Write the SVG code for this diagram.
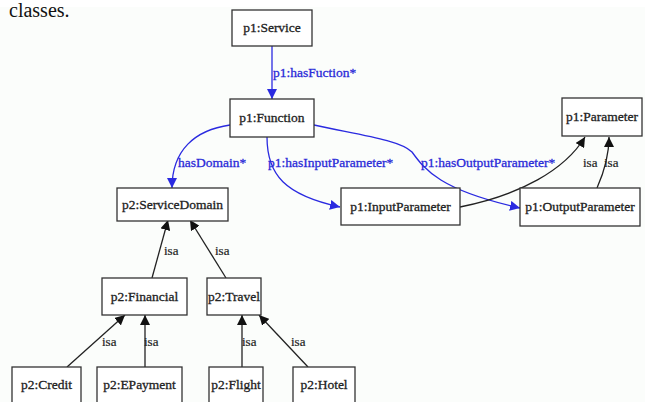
<svg xmlns="http://www.w3.org/2000/svg" width="645" height="402" viewBox="0 0 645 402">
<style>
.box{fill:#ffffff;stroke:#333;stroke-width:1.3}
.t{font-family:"Liberation Serif","Times New Roman",serif;font-size:13.5px;fill:#222;stroke:#222;stroke-width:0.3;text-anchor:middle}
.bl{font-family:"Liberation Serif","Times New Roman",serif;font-size:13.5px;fill:#2a2ad8;stroke:#2a2ad8;stroke-width:0.3}
.isa{font-family:"Liberation Serif","Times New Roman",serif;font-size:13px;fill:#222;stroke:#222;stroke-width:0.2}
.eb{fill:none;stroke:#2a2ae0;stroke-width:1.3}
.ek{fill:none;stroke:#222;stroke-width:1.3}
</style>
<defs>
<marker id="ab" viewBox="0 0 10 10" refX="10" refY="5" markerWidth="10" markerHeight="10" markerUnits="userSpaceOnUse" orient="auto"><path d="M0,0L10,5L0,10z" fill="#2a2ae0"/></marker>
<marker id="ak" viewBox="0 0 10 10" refX="10" refY="5" markerWidth="10" markerHeight="10" markerUnits="userSpaceOnUse" orient="auto"><path d="M0,0L10,5L0,10z" fill="#111"/></marker>
</defs>
<rect x="0" y="0" width="645" height="402" fill="#ffffff"/>
<rect x="0" y="7" width="645" height="395" fill="#fbfdfb"/>
<text x="9" y="17" style="font-family:'Liberation Serif','Times New Roman',serif;font-size:20px;fill:#111">classes.</text>
<g id="connectors">
<path class="eb" d="M272,46 L272,99" marker-end="url(#ab)"/>
<path class="eb" d="M230,125 C195,130 172,150 172,188" marker-end="url(#ab)"/>
<path class="eb" d="M267,137 C267,175 285,195 340,207" marker-end="url(#ab)"/>
<path class="eb" d="M314,125 C360,135 400,140 412,152 C425,170 440,190 520,208" marker-end="url(#ab)"/>
<path class="ek" d="M460,207 C520,195 565,170 585,137" marker-end="url(#ak)"/>
<path class="ek" d="M597,188 C605,170 609,155 609,137" marker-end="url(#ak)"/>
<path class="ek" d="M152,278 L168,220" marker-end="url(#ak)"/>
<path class="ek" d="M226,278 L190,220" marker-end="url(#ak)"/>
<path class="ek" d="M67,367 L125,315" marker-end="url(#ak)"/>
<path class="ek" d="M145,367 L145,315" marker-end="url(#ak)"/>
<path class="ek" d="M242,367 L242,315" marker-end="url(#ak)"/>
<path class="ek" d="M308,367 L259,315" marker-end="url(#ak)"/>
<text class="bl" x="273" y="77">p1:hasFuction*</text>
<text class="bl" x="178" y="167">hasDomain*</text>
<text class="bl" x="268" y="167">p1:hasInputParameter*</text>
<text class="bl" x="421" y="167">p1:hasOutputParameter*</text>
<text class="isa" x="583" y="167">isa</text>
<text class="isa" x="604" y="167">isa</text>
<text class="isa" x="164" y="255">isa</text>
<text class="isa" x="215" y="255">isa</text>
<text class="isa" x="102" y="346">isa</text>
<text class="isa" x="144" y="346">isa</text>
<text class="isa" x="242" y="346">isa</text>
<text class="isa" x="291" y="346">isa</text>
</g>
<g id="service"><rect class="box" x="232" y="10" width="80" height="36"/><text class="t" x="272" y="32">p1:Service</text></g>
<g id="function"><rect class="box" x="230" y="99" width="84" height="38"/><text class="t" x="272" y="122">p1:Function</text></g>
<g id="parameter"><rect class="box" x="562" y="98" width="80" height="38"/><text class="t" x="602" y="121">p1:Parameter</text></g>
<g id="servicedomain"><rect class="box" x="117" y="188" width="111" height="33"/><text class="t" x="172.5" y="209">p2:ServiceDomain</text></g>
<g id="inputparameter"><rect class="box" x="341" y="188" width="119" height="37"/><text class="t" x="400.5" y="211">p1:InputParameter</text></g>
<g id="outputparameter"><rect class="box" x="520" y="188" width="120" height="38"/><text class="t" x="580" y="211">p1:OutputParameter</text></g>
<g id="financial"><rect class="box" x="102" y="278" width="85" height="37"/><text class="t" x="144.5" y="301">p2:Financial</text></g>
<g id="travel"><rect class="box" x="207" y="278" width="54" height="37"/><text class="t" x="234" y="301">p2:Travel</text></g>
<g id="credit"><rect class="box" x="12" y="367" width="69" height="40"/><text class="t" x="46.5" y="389">p2:Credit</text></g>
<g id="epayment"><rect class="box" x="97" y="367" width="85" height="40"/><text class="t" x="139.5" y="389">p2:EPayment</text></g>
<g id="flight"><rect class="box" x="209" y="367" width="54" height="40"/><text class="t" x="236" y="389">p2:Flight</text></g>
<g id="hotel"><rect class="box" x="293" y="367" width="62" height="40"/><text class="t" x="324" y="389">p2:Hotel</text></g>
</svg>
